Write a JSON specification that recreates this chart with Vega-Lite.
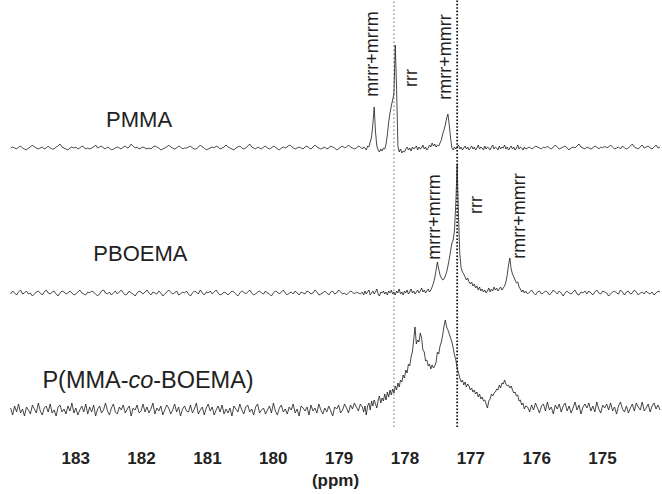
{
"$schema": "https://vega.github.io/schema/vega-lite/v6.json",
"width": 650, "height": 430,
"autosize": {"type": "none"},
"padding": {"left": 10, "top": 0, "right": 2, "bottom": 64},
"background": "white",
"config": {"view": {"stroke": null}, "font": "Liberation Sans"},
"datasets": {
"spec": [
{"x":183.98,"a":282,"b":136,"c":22},{"x":183.95,"a":283,"b":139,"c":15},{"x":183.92,"a":282,"b":137,"c":24},{"x":183.89,"a":281,"b":135,"c":18},{"x":183.86,"a":283,"b":138,"c":26},{"x":183.83,"a":284,"b":140,"c":17},{"x":183.80,"a":282,"b":136,"c":21},{"x":183.77,"a":281,"b":137,"c":14},{"x":183.74,"a":280,"b":139,"c":23},{"x":183.71,"a":282,"b":136,"c":20},
{"x":183.68,"a":283,"b":137,"c":16},{"x":183.65,"a":285,"b":134,"c":25},{"x":183.62,"a":283,"b":136,"c":21},{"x":183.59,"a":282,"b":138,"c":17},{"x":183.56,"a":281,"b":139,"c":27},{"x":183.53,"a":282,"b":137,"c":19},{"x":183.50,"a":283,"b":135,"c":15},{"x":183.47,"a":281,"b":138,"c":22},{"x":183.44,"a":282,"b":140,"c":24},{"x":183.41,"a":284,"b":137,"c":18},
{"x":183.38,"a":282,"b":136,"c":26},{"x":183.35,"a":281,"b":138,"c":17},{"x":183.32,"a":281,"b":139,"c":20},{"x":183.29,"a":283,"b":136,"c":14},{"x":183.26,"a":284,"b":134,"c":23},{"x":183.23,"a":286,"b":137,"c":25},{"x":183.20,"a":283,"b":139,"c":18},{"x":183.17,"a":282,"b":138,"c":21},{"x":183.14,"a":281,"b":136,"c":16},{"x":183.11,"a":280,"b":137,"c":24},
{"x":183.08,"a":282,"b":139,"c":19},{"x":183.05,"a":283,"b":137,"c":27},{"x":183.02,"a":282,"b":135,"c":17},{"x":182.99,"a":283,"b":136,"c":22},{"x":182.96,"a":281,"b":138,"c":15},{"x":182.93,"a":282,"b":140,"c":20},{"x":182.90,"a":284,"b":137,"c":24},{"x":182.87,"a":283,"b":136,"c":18},{"x":182.84,"a":281,"b":135,"c":26},{"x":182.81,"a":282,"b":138,"c":16},
{"x":182.78,"a":281,"b":137,"c":23},{"x":182.75,"a":282,"b":139,"c":18},{"x":182.72,"a":283,"b":138,"c":25},{"x":182.69,"a":285,"b":136,"c":14},{"x":182.66,"a":282,"b":134,"c":21},{"x":182.63,"a":283,"b":136,"c":24},{"x":182.60,"a":284,"b":139,"c":17},{"x":182.57,"a":282,"b":140,"c":20},{"x":182.54,"a":281,"b":137,"c":27},{"x":182.51,"a":283,"b":136,"c":19},
{"x":182.48,"a":282,"b":138,"c":15},{"x":182.45,"a":280,"b":135,"c":22},{"x":182.42,"a":281,"b":137,"c":26},{"x":182.39,"a":282,"b":139,"c":18},{"x":182.36,"a":283,"b":136,"c":16},{"x":182.33,"a":282,"b":138,"c":23},{"x":182.30,"a":281,"b":140,"c":20},{"x":182.27,"a":283,"b":137,"c":25},{"x":182.24,"a":284,"b":135,"c":17},{"x":182.21,"a":282,"b":136,"c":21},
{"x":182.18,"a":283,"b":139,"c":24},{"x":182.15,"a":286,"b":137,"c":14},{"x":182.12,"a":284,"b":136,"c":22},{"x":182.09,"a":282,"b":134,"c":20},{"x":182.06,"a":283,"b":137,"c":25},{"x":182.03,"a":281,"b":139,"c":17},{"x":182.00,"a":282,"b":138,"c":19},{"x":181.97,"a":283,"b":136,"c":26},{"x":181.94,"a":282,"b":138,"c":18},{"x":181.91,"a":281,"b":140,"c":23},
{"x":181.88,"a":282,"b":137,"c":17},{"x":181.85,"a":281,"b":135,"c":21},{"x":181.82,"a":283,"b":138,"c":27},{"x":181.79,"a":284,"b":137,"c":16},{"x":181.76,"a":283,"b":136,"c":22},{"x":181.73,"a":282,"b":139,"c":19},{"x":181.70,"a":280,"b":137,"c":24},{"x":181.67,"a":281,"b":134,"c":15},{"x":181.64,"a":282,"b":136,"c":20},{"x":181.61,"a":283,"b":138,"c":25},
{"x":181.58,"a":285,"b":140,"c":22},{"x":181.55,"a":283,"b":138,"c":16},{"x":181.52,"a":282,"b":136,"c":20},{"x":181.49,"a":281,"b":137,"c":26},{"x":181.46,"a":282,"b":139,"c":18},{"x":181.43,"a":284,"b":135,"c":23},{"x":181.40,"a":283,"b":136,"c":14},{"x":181.37,"a":281,"b":138,"c":21},{"x":181.34,"a":282,"b":137,"c":24},{"x":181.31,"a":282,"b":139,"c":19},
{"x":181.28,"a":283,"b":136,"c":18},{"x":181.25,"a":284,"b":134,"c":25},{"x":181.22,"a":282,"b":137,"c":17},{"x":181.19,"a":281,"b":139,"c":21},{"x":181.16,"a":281,"b":138,"c":27},{"x":181.13,"a":283,"b":136,"c":16},{"x":181.10,"a":285,"b":140,"c":20},{"x":181.07,"a":283,"b":137,"c":23},{"x":181.04,"a":282,"b":135,"c":15},{"x":181.01,"a":280,"b":138,"c":22},
{"x":180.98,"a":281,"b":137,"c":26},{"x":180.95,"a":282,"b":139,"c":19},{"x":180.92,"a":283,"b":136,"c":23},{"x":180.89,"a":282,"b":138,"c":15},{"x":180.86,"a":284,"b":140,"c":20},{"x":180.83,"a":283,"b":137,"c":24},{"x":180.80,"a":281,"b":135,"c":18},{"x":180.77,"a":282,"b":136,"c":25},{"x":180.74,"a":283,"b":138,"c":16},{"x":180.71,"a":285,"b":137,"c":21},
{"x":180.68,"a":283,"b":135,"c":17},{"x":180.65,"a":282,"b":137,"c":22},{"x":180.62,"a":281,"b":139,"c":14},{"x":180.59,"a":280,"b":138,"c":24},{"x":180.56,"a":282,"b":136,"c":21},{"x":180.53,"a":283,"b":134,"c":18},{"x":180.50,"a":284,"b":137,"c":26},{"x":180.47,"a":282,"b":139,"c":20},{"x":180.44,"a":281,"b":138,"c":16},{"x":180.41,"a":282,"b":136,"c":23},
{"x":180.38,"a":284,"b":138,"c":25},{"x":180.35,"a":286,"b":140,"c":18},{"x":180.32,"a":283,"b":137,"c":21},{"x":180.29,"a":282,"b":135,"c":15},{"x":180.26,"a":281,"b":136,"c":23},{"x":180.23,"a":283,"b":138,"c":26},{"x":180.20,"a":282,"b":139,"c":17},{"x":180.17,"a":281,"b":137,"c":20},{"x":180.14,"a":283,"b":136,"c":22},{"x":180.11,"a":284,"b":139,"c":16},
{"x":180.08,"a":282,"b":137,"c":20},{"x":180.05,"a":281,"b":136,"c":24},{"x":180.02,"a":282,"b":134,"c":17},{"x":179.99,"a":284,"b":137,"c":27},{"x":179.96,"a":283,"b":139,"c":19},{"x":179.93,"a":281,"b":138,"c":15},{"x":179.90,"a":280,"b":136,"c":22},{"x":179.87,"a":282,"b":138,"c":25},{"x":179.84,"a":283,"b":140,"c":18},{"x":179.81,"a":282,"b":137,"c":21},
{"x":179.78,"a":283,"b":135,"c":16},{"x":179.75,"a":285,"b":137,"c":23},{"x":179.72,"a":284,"b":138,"c":20},{"x":179.69,"a":282,"b":136,"c":26},{"x":179.66,"a":281,"b":139,"c":17},{"x":179.63,"a":282,"b":137,"c":21},{"x":179.60,"a":283,"b":135,"c":14},{"x":179.57,"a":282,"b":138,"c":24},{"x":179.54,"a":281,"b":137,"c":22},{"x":179.51,"a":283,"b":136,"c":19},
{"x":179.48,"a":284,"b":139,"c":23},{"x":179.45,"a":282,"b":138,"c":15},{"x":179.42,"a":281,"b":136,"c":25},{"x":179.39,"a":283,"b":137,"c":19},{"x":179.36,"a":285,"b":140,"c":22},{"x":179.33,"a":283,"b":138,"c":17},{"x":179.30,"a":282,"b":135,"c":26},{"x":179.27,"a":281,"b":136,"c":20},{"x":179.24,"a":282,"b":137,"c":16},{"x":179.21,"a":283,"b":139,"c":22},
{"x":179.18,"a":281,"b":137,"c":18},{"x":179.15,"a":282,"b":135,"c":24},{"x":179.12,"a":284,"b":138,"c":19},{"x":179.09,"a":283,"b":139,"c":14},{"x":179.06,"a":282,"b":136,"c":23},{"x":179.03,"a":280,"b":137,"c":21},{"x":179.00,"a":281,"b":140,"c":25},{"x":178.97,"a":283,"b":138,"c":17},{"x":178.94,"a":284,"b":136,"c":20},{"x":178.91,"a":282,"b":137,"c":26},
{"x":178.88,"a":283,"b":135,"c":22},{"x":178.85,"a":285,"b":137,"c":17},{"x":178.82,"a":283,"b":139,"c":25},{"x":178.79,"a":282,"b":138,"c":21},{"x":178.76,"a":281,"b":136,"c":27},{"x":178.73,"a":282,"b":138,"c":23},{"x":178.70,"a":284,"b":137,"c":19},{"x":178.67,"a":283,"b":136,"c":26},
{"x":178.64,"a":281,"b":138,"c":23},{"x":178.62,"a":283,"b":135,"c":18},{"x":178.60,"a":282,"b":139,"c":24},{"x":178.58,"a":280,"b":136,"c":15},{"x":178.56,"a":284,"b":138,"c":24},{"x":178.54,"a":283,"b":140,"c":27},{"x":178.52,"a":288,"b":135,"c":20},{"x":178.50,"a":293,"b":137,"c":29},{"x":178.48,"a":306,"b":139,"c":24},{"x":178.46,"a":323,"b":136,"c":30},
{"x":178.44,"a":298,"b":138,"c":26},{"x":178.42,"a":284,"b":141,"c":22},{"x":178.40,"a":280,"b":136,"c":30},{"x":178.38,"a":278,"b":134,"c":34},{"x":178.36,"a":281,"b":138,"c":27},{"x":178.34,"a":279,"b":137,"c":32},{"x":178.32,"a":282,"b":139,"c":29},{"x":178.30,"a":281,"b":136,"c":36},{"x":178.28,"a":286,"b":138,"c":30},{"x":178.26,"a":295,"b":135,"c":38},
{"x":178.24,"a":308,"b":139,"c":33},{"x":178.22,"a":317,"b":137,"c":40},{"x":178.20,"a":324,"b":140,"c":35},{"x":178.18,"a":330,"b":136,"c":41},{"x":178.16,"a":336,"b":138,"c":37},{"x":178.14,"a":385,"b":135,"c":44},{"x":178.12,"a":343,"b":139,"c":40},{"x":178.10,"a":284,"b":137,"c":47},{"x":178.08,"a":278,"b":141,"c":43},{"x":178.06,"a":281,"b":136,"c":50},
{"x":178.04,"a":277,"b":138,"c":48},{"x":178.02,"a":279,"b":135,"c":55},{"x":178.00,"a":278,"b":139,"c":52},{"x":177.98,"a":281,"b":137,"c":60},{"x":177.96,"a":283,"b":140,"c":57},{"x":177.94,"a":280,"b":136,"c":66},{"x":177.92,"a":282,"b":138,"c":64},{"x":177.90,"a":279,"b":141,"c":73},{"x":177.88,"a":283,"b":137,"c":78},{"x":177.86,"a":281,"b":139,"c":90},
{"x":177.84,"a":282,"b":136,"c":103},{"x":177.82,"a":284,"b":138,"c":86},{"x":177.80,"a":280,"b":140,"c":90},{"x":177.78,"a":283,"b":137,"c":88},{"x":177.76,"a":281,"b":139,"c":97},{"x":177.74,"a":282,"b":142,"c":92},{"x":177.72,"a":285,"b":138,"c":80},{"x":177.70,"a":281,"b":140,"c":78},{"x":177.68,"a":283,"b":137,"c":69},{"x":177.66,"a":280,"b":139,"c":70},
{"x":177.64,"a":282,"b":141,"c":64},{"x":177.62,"a":285,"b":138,"c":66},{"x":177.60,"a":283,"b":140,"c":61},{"x":177.58,"a":287,"b":143,"c":65},{"x":177.56,"a":284,"b":147,"c":62},{"x":177.54,"a":286,"b":152,"c":64},{"x":177.52,"a":283,"b":160,"c":68},{"x":177.50,"a":285,"b":168,"c":78},{"x":177.48,"a":284,"b":161,"c":76},{"x":177.46,"a":287,"b":155,"c":84},
{"x":177.44,"a":290,"b":152,"c":88},{"x":177.42,"a":296,"b":150,"c":95},{"x":177.40,"a":300,"b":151,"c":104},{"x":177.38,"a":305,"b":154,"c":110},{"x":177.36,"a":312,"b":158,"c":103},{"x":177.34,"a":316,"b":164,"c":100},{"x":177.32,"a":305,"b":171,"c":96},{"x":177.30,"a":292,"b":179,"c":92},{"x":177.28,"a":282,"b":187,"c":88},{"x":177.26,"a":280,"b":190,"c":82},
{"x":177.24,"a":283,"b":200,"c":75},{"x":177.22,"a":281,"b":228,"c":70},{"x":177.20,"a":283,"b":265,"c":62},{"x":177.18,"a":285,"b":215,"c":57},{"x":177.16,"a":281,"b":176,"c":52},{"x":177.14,"a":283,"b":162,"c":48},{"x":177.12,"a":280,"b":158,"c":50},{"x":177.10,"a":282,"b":156,"c":45},{"x":177.08,"a":284,"b":153,"c":48},{"x":177.06,"a":281,"b":150,"c":43},
{"x":177.04,"a":283,"b":152,"c":46},{"x":177.02,"a":280,"b":148,"c":44},{"x":177.00,"a":282,"b":146,"c":40},{"x":176.98,"a":284,"b":148,"c":42},{"x":176.96,"a":281,"b":144,"c":38},{"x":176.94,"a":283,"b":146,"c":40},{"x":176.92,"a":280,"b":142,"c":36},{"x":176.90,"a":282,"b":144,"c":38},{"x":176.88,"a":285,"b":140,"c":33},{"x":176.86,"a":281,"b":143,"c":36},
{"x":176.84,"a":283,"b":139,"c":31},{"x":176.82,"a":282,"b":141,"c":33},{"x":176.80,"a":280,"b":138,"c":29},{"x":176.78,"a":284,"b":140,"c":30},{"x":176.76,"a":281,"b":137,"c":26},{"x":176.74,"a":283,"b":139,"c":22},{"x":176.72,"a":282,"b":142,"c":29},{"x":176.70,"a":280,"b":138,"c":31},{"x":176.68,"a":283,"b":141,"c":36},{"x":176.66,"a":285,"b":139,"c":34},
{"x":176.64,"a":281,"b":143,"c":37},{"x":176.62,"a":283,"b":140,"c":38},{"x":176.60,"a":282,"b":142,"c":41},{"x":176.58,"a":280,"b":139,"c":40},{"x":176.56,"a":284,"b":141,"c":45},{"x":176.54,"a":281,"b":143,"c":42},{"x":176.52,"a":283,"b":140,"c":47},{"x":176.50,"a":282,"b":142,"c":46},{"x":176.48,"a":285,"b":144,"c":50},{"x":176.46,"a":281,"b":148,"c":46},
{"x":176.44,"a":283,"b":155,"c":44},{"x":176.42,"a":280,"b":165,"c":45},{"x":176.40,"a":282,"b":172,"c":42},{"x":176.38,"a":284,"b":161,"c":44},{"x":176.36,"a":281,"b":156,"c":40},{"x":176.34,"a":283,"b":153,"c":37},{"x":176.32,"a":280,"b":150,"c":38},{"x":176.30,"a":282,"b":147,"c":34},{"x":176.28,"a":285,"b":148,"c":35},{"x":176.26,"a":281,"b":143,"c":29},
{"x":176.24,"a":283,"b":141,"c":30},{"x":176.22,"a":282,"b":138,"c":25},{"x":176.20,"a":280,"b":140,"c":27},{"x":176.18,"a":283,"b":137,"c":21},{"x":176.16,"a":281,"b":139,"c":24},
{"x":176.13,"a":282,"b":136,"c":23},{"x":176.10,"a":283,"b":138,"c":18},{"x":176.07,"a":281,"b":140,"c":25},{"x":176.04,"a":282,"b":137,"c":20},{"x":176.01,"a":284,"b":135,"c":27},{"x":175.98,"a":283,"b":138,"c":22},{"x":175.95,"a":282,"b":139,"c":17},{"x":175.92,"a":281,"b":136,"c":24},{"x":175.89,"a":283,"b":137,"c":26},{"x":175.86,"a":282,"b":139,"c":19},
{"x":175.83,"a":284,"b":138,"c":28},{"x":175.80,"a":282,"b":135,"c":20},{"x":175.77,"a":281,"b":137,"c":23},{"x":175.74,"a":283,"b":140,"c":16},{"x":175.71,"a":285,"b":138,"c":25},{"x":175.68,"a":283,"b":136,"c":21},{"x":175.65,"a":281,"b":139,"c":26},{"x":175.62,"a":282,"b":137,"c":18},{"x":175.59,"a":283,"b":134,"c":24},{"x":175.56,"a":284,"b":137,"c":27},
{"x":175.53,"a":282,"b":139,"c":19},{"x":175.50,"a":280,"b":137,"c":24},{"x":175.47,"a":282,"b":136,"c":17},{"x":175.44,"a":283,"b":138,"c":22},{"x":175.41,"a":282,"b":140,"c":28},{"x":175.38,"a":284,"b":136,"c":20},{"x":175.35,"a":286,"b":135,"c":25},{"x":175.32,"a":283,"b":138,"c":16},{"x":175.29,"a":282,"b":137,"c":23},{"x":175.26,"a":281,"b":139,"c":26},
{"x":175.23,"a":283,"b":136,"c":22},{"x":175.20,"a":282,"b":139,"c":27},{"x":175.17,"a":281,"b":137,"c":19},{"x":175.14,"a":282,"b":135,"c":24},{"x":175.11,"a":284,"b":138,"c":18},{"x":175.08,"a":283,"b":140,"c":28},{"x":175.05,"a":281,"b":137,"c":21},{"x":175.02,"a":283,"b":136,"c":17},{"x":174.99,"a":282,"b":139,"c":25},{"x":174.96,"a":284,"b":138,"c":22},
{"x":174.93,"a":282,"b":137,"c":26},{"x":174.90,"a":283,"b":134,"c":20},{"x":174.87,"a":285,"b":136,"c":27},{"x":174.84,"a":283,"b":138,"c":19},{"x":174.81,"a":281,"b":139,"c":23},{"x":174.78,"a":282,"b":137,"c":16},{"x":174.75,"a":283,"b":136,"c":24},{"x":174.72,"a":281,"b":140,"c":28},{"x":174.69,"a":284,"b":138,"c":21},{"x":174.66,"a":282,"b":135,"c":18},
{"x":174.63,"a":281,"b":138,"c":24},{"x":174.60,"a":282,"b":139,"c":17},{"x":174.57,"a":284,"b":136,"c":22},{"x":174.54,"a":286,"b":137,"c":26},{"x":174.51,"a":283,"b":140,"c":19},{"x":174.48,"a":282,"b":138,"c":27},{"x":174.45,"a":281,"b":135,"c":23},{"x":174.42,"a":283,"b":137,"c":20},{"x":174.39,"a":285,"b":138,"c":28},{"x":174.36,"a":282,"b":136,"c":19},
{"x":174.33,"a":283,"b":139,"c":22},{"x":174.30,"a":284,"b":137,"c":26},{"x":174.27,"a":282,"b":136,"c":18},{"x":174.24,"a":281,"b":138,"c":24},{"x":174.21,"a":283,"b":135,"c":27},{"x":174.18,"a":285,"b":137,"c":21},{"x":174.15,"a":282,"b":139,"c":25},{"x":174.12,"a":283,"b":138,"c":20}
],
"names": [{"x":182.03,"y":310,"t":"PMMA"},{"x":182.01,"y":176,"t":"PBOEMA"}],
"peaks": [
{"x":178.48,"y":376,"t":"mrrr+mrrm"},{"x":177.88,"y":352,"t":"rrr"},{"x":177.37,"y":373,"t":"rmrr+mmrr"},
{"x":177.53,"y":213,"t":"mrrr+mrrm"},{"x":176.90,"y":225,"t":"rrr"},{"x":176.24,"y":214,"t":"rmrr+mmrr"}
]
},
"encoding": {
"x": {"field": "x", "type": "quantitative",
 "scale": {"domain": [174.12, 183.99], "reverse": true, "nice": false, "zero": false},
 "axis": {"values": [183,182,181,180,179,178,177,176,175], "format": "d", "domain": false, "ticks": false, "grid": false,
  "labelFontSize": 17, "labelFontWeight": "bold", "labelColor": "#222", "labelPadding": 20, "labelFont": "Liberation Sans",
  "title": "(ppm)", "titleFontSize": 17, "titleFontWeight": "bold", "titleColor": "#222", "titlePadding": 6, "titleFont": "Liberation Sans"}}
},
"layer": [
{"data": {"values": [{"x": 178.16}]}, "mark": {"type": "rule", "stroke": "#666", "strokeWidth": 1, "strokeDash": [1.5, 2.5]},
 "encoding": {"y": {"datum": 3, "type": "quantitative", "scale": {"domain": [0, 430]}, "axis": null}, "y2": {"datum": 430}}},
{"data": {"values": [{"x": 177.2}]}, "mark": {"type": "rule", "stroke": "#111", "strokeWidth": 1.8, "strokeDash": [1.6, 1.8]},
 "encoding": {"y": {"datum": 3, "type": "quantitative", "scale": {"domain": [0, 430]}, "axis": null}, "y2": {"datum": 430}}},
{"data": {"name": "spec"}, "mark": {"type": "line", "stroke": "#1a1a1a", "strokeWidth": 0.8},
 "encoding": {"y": {"field": "a", "type": "quantitative", "scale": {"domain": [0, 430]}, "axis": null}}},
{"data": {"name": "spec"}, "mark": {"type": "line", "stroke": "#1a1a1a", "strokeWidth": 0.8},
 "encoding": {"y": {"field": "b", "type": "quantitative", "scale": {"domain": [0, 430]}, "axis": null}}},
{"data": {"name": "spec"}, "mark": {"type": "line", "stroke": "#1a1a1a", "strokeWidth": 0.8},
 "encoding": {"y": {"field": "c", "type": "quantitative", "scale": {"domain": [0, 430]}, "axis": null}}},
{"data": {"name": "names"}, "mark": {"type": "text", "fontSize": 22, "font": "Liberation Sans", "color": "#222", "align": "center", "baseline": "middle"},
 "encoding": {"y": {"field": "y", "type": "quantitative", "scale": {"domain": [0, 430]}, "axis": null}, "text": {"field": "t"}}},
{"data": {"values": [{"x": 182.19, "y": 49, "t": "P(MMA-"}]}, "mark": {"type": "text", "fontSize": 23.5, "font": "Liberation Sans", "color": "#222", "align": "right", "baseline": "middle"},
 "encoding": {"y": {"field": "y", "type": "quantitative", "scale": {"domain": [0, 430]}, "axis": null}, "text": {"field": "t"}}},
{"data": {"values": [{"x": 182.19, "y": 49, "t": "co"}]}, "mark": {"type": "text", "fontSize": 23.5, "font": "Liberation Sans", "fontStyle": "italic", "color": "#222", "align": "left", "baseline": "middle"},
 "encoding": {"y": {"field": "y", "type": "quantitative", "scale": {"domain": [0, 430]}, "axis": null}, "text": {"field": "t"}}},
{"data": {"values": [{"x": 181.816, "y": 49, "t": "-BOEMA)"}]}, "mark": {"type": "text", "fontSize": 23.5, "font": "Liberation Sans", "color": "#222", "align": "left", "baseline": "middle"},
 "encoding": {"y": {"field": "y", "type": "quantitative", "scale": {"domain": [0, 430]}, "axis": null}, "text": {"field": "t"}}},
{"data": {"name": "peaks"}, "mark": {"type": "text", "fontSize": 18, "font": "Liberation Sans", "color": "#222", "align": "center", "baseline": "middle", "angle": 270},
 "encoding": {"y": {"field": "y", "type": "quantitative", "scale": {"domain": [0, 430]}, "axis": null}, "text": {"field": "t"}}}
]
}
